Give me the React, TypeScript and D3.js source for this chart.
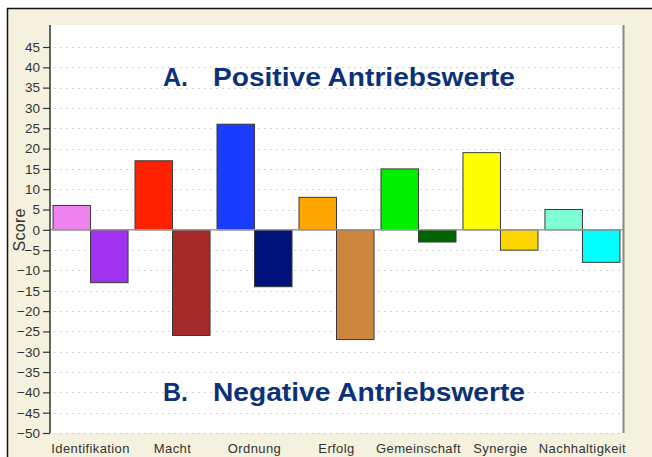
import * as d3 from "d3";
import React, { useRef, useEffect } from "react";

const categories = ["Identifikation", "Macht", "Ordnung", "Erfolg", "Gemeinschaft", "Synergie", "Nachhaltigkeit"];
const positiveValues = [6, 17, 26, 8, 15, 19, 5];
const negativeValues = [-13, -26, -14, -27, -3, -5, -8];
const positiveColors = ["#ee82ee", "#ff2200", "#1a3cff", "#ffa500", "#00ee00", "#ffff00", "#7fffd4"];
const negativeColors = ["#a033f0", "#a52a2a", "#00127a", "#cd853f", "#006400", "#ffd700", "#00ffff"];
const yTicks = [45, 40, 35, 30, 25, 20, 15, 10, 5, 0, -5, -10, -15, -20, -25, -30, -35, -40, -45, -50];

const FONT = "Liberation Sans, Arial, sans-serif";

export default function App() {
  const svgRef = useRef<SVGSVGElement | null>(null);

  useEffect(() => {
    const width = 652;
    const height = 457;
    const left = 50, right = 623, top = 25, bottom = 433;

    const svg = d3.select(svgRef.current).attr("width", width).attr("height", height);
    svg.selectAll("*").remove();

    // frame
    svg.append("rect").attr("x", 7).attr("y", 8).attr("width", width).attr("height", height).attr("fill", "#f4f2de");
    svg.append("line").attr("x1", 7).attr("x2", width).attr("y1", 8.5).attr("y2", 8.5).attr("stroke", "#111").attr("stroke-width", 1.5);
    svg.append("line").attr("x1", 7.5).attr("x2", 7.5).attr("y1", 8).attr("y2", height).attr("stroke", "#111").attr("stroke-width", 1.5);

    const x = d3.scaleBand().domain(categories).range([left, right]).paddingInner(0.085).paddingOuter(0.037);
    const y = d3.scaleLinear().domain([-50, 45]).range([bottom, 47]);

    svg.append("rect").attr("x", left).attr("y", top).attr("width", right - left).attr("height", bottom - top).attr("fill", "#fff");
    svg.append("line").attr("x1", right + 0.5).attr("x2", right + 0.5).attr("y1", top).attr("y2", bottom)
      .attr("stroke", "#888").attr("stroke-width", 2);

    // grid
    svg.append("g").selectAll("line").data(yTicks.filter(d => d !== 0)).join("line")
      .attr("x1", left + 4).attr("x2", right - 2)
      .attr("y1", d => Math.round(y(d)) + 0.5).attr("y2", d => Math.round(y(d)) + 0.5)
      .attr("stroke", "#c8c8c8").attr("stroke-width", 1.2).attr("stroke-dasharray", "1.5,4.5");

    // titles
    const title = (label: string, rest: string, yy: number, len: number) => {
      svg.append("text").attr("x", 163).attr("y", yy).attr("fill", "#0b3278")
        .attr("font-family", FONT).attr("font-weight", "bold").attr("font-size", 25).text(label);
      svg.append("text").attr("x", 213).attr("y", yy).attr("fill", "#0b3278")
        .attr("font-family", FONT).attr("font-weight", "bold").attr("font-size", 25)
        .attr("textLength", len).attr("lengthAdjust", "spacingAndGlyphs").text(rest);
    };
    title("A.", "Positive Antriebswerte", 85.5, 302);
    title("B.", "Negative Antriebswerte", 401, 312);

    const bw = x.bandwidth() / 2;
    const g = svg.append("g");
    g.selectAll("rect.pos").data(categories).join("rect").attr("class", "pos")
      .attr("x", d => x(d)!).attr("width", bw)
      .attr("y", (d, i) => y(positiveValues[i])).attr("height", (d, i) => y(0) - y(positiveValues[i]))
      .attr("fill", (d, i) => positiveColors[i]).attr("stroke", "#3a3a3a").attr("stroke-width", 1);
    g.selectAll("rect.neg").data(categories).join("rect").attr("class", "neg")
      .attr("x", d => x(d)! + bw).attr("width", bw)
      .attr("y", y(0)).attr("height", (d, i) => y(negativeValues[i]) - y(0))
      .attr("fill", (d, i) => negativeColors[i]).attr("stroke", "#3a3a3a").attr("stroke-width", 1);

    // zero line
    svg.append("line").attr("x1", left).attr("x2", right).attr("y1", y(0)).attr("y2", y(0))
      .attr("stroke", "#999").attr("stroke-width", 1.5);

    // y axis
    const yAxis = svg.append("g").attr("transform", `translate(${left},0)`)
      .call(d3.axisLeft(y).tickValues(yTicks).tickSize(7).tickPadding(3));
    yAxis.select(".domain").attr("d", `M0,${top}V${bottom}`).attr("stroke", "#333").attr("stroke-width", 1.5);
    yAxis.selectAll(".tick line").attr("stroke", "#333").attr("stroke-width", 1.2);
    yAxis.selectAll(".tick text").attr("fill", "#333").attr("font-size", 13.5).attr("font-family", FONT);

    // x labels
    const xAxis = svg.append("g").attr("transform", `translate(0,${bottom})`)
      .call(d3.axisBottom(x).tickSize(0).tickPadding(11));
    xAxis.select(".domain").remove();
    xAxis.selectAll(".tick text").attr("fill", "#333").attr("font-size", 13).attr("letter-spacing", 0.4)
      .attr("font-family", FONT);

    svg.append("text").attr("transform", `translate(25,${y(0)}) rotate(-90)`).attr("text-anchor", "middle")
      .attr("fill", "#333").attr("font-size", 16).attr("letter-spacing", 0.3).attr("font-family", FONT)
      .text("Score");
  }, []);

  return <svg ref={svgRef} style={{ position: "absolute", left: 0, top: 0 }} />;
}
